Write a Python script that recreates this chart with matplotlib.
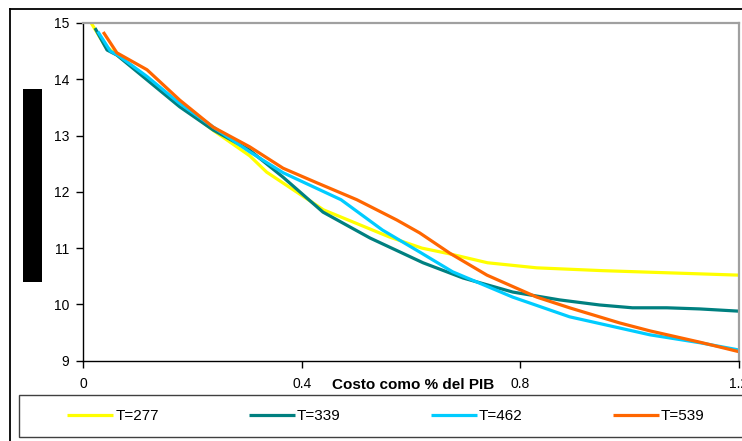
import matplotlib
matplotlib.use("Agg")
import matplotlib.pyplot as plt
from matplotlib.patches import Rectangle
from matplotlib.lines import Line2D

plt.rcParams["font.family"] = ["Liberation Sans", "DejaVu Sans"]

# data
x_277 = [0.015, 0.04, 0.06, 0.12, 0.18, 0.24, 0.305, 0.336, 0.44, 0.56, 0.62, 0.67, 0.74, 0.83, 0.95, 1.2]
y_277 = [15.0, 14.6, 14.45, 14.0, 13.52, 13.08, 12.64, 12.35, 11.68, 11.2, 11.0, 10.9, 10.74, 10.65, 10.6, 10.52]

x_339 = [0.022, 0.044, 0.062, 0.117, 0.177, 0.238, 0.305, 0.366, 0.439, 0.525, 0.622, 0.695,
         0.786, 0.872, 0.945, 1.005, 1.068, 1.128, 1.2]
y_339 = [14.91, 14.52, 14.43, 13.99, 13.51, 13.10, 12.74, 12.26, 11.64, 11.18, 10.74, 10.47,
         10.22, 10.08, 9.99, 9.94, 9.94, 9.92, 9.88]

x_462 = [0.027, 0.05, 0.065, 0.117, 0.177, 0.24, 0.305, 0.366, 0.472, 0.548, 0.616, 0.676,
         0.786, 0.89, 0.982, 1.037, 1.128, 1.2]
y_462 = [14.85, 14.5, 14.42, 14.05, 13.57, 13.14, 12.71, 12.34, 11.86, 11.32, 10.93, 10.58,
         10.13, 9.78, 9.58, 9.46, 9.32, 9.19]

x_539 = [0.037, 0.062, 0.117, 0.177, 0.238, 0.305, 0.366, 0.428, 0.501, 0.574, 0.616, 0.671,
         0.739, 0.83, 0.89, 0.982, 1.037, 1.128, 1.2]
y_539 = [14.84, 14.47, 14.17, 13.63, 13.15, 12.80, 12.42, 12.16, 11.86, 11.50, 11.27, 10.91,
         10.52, 10.13, 9.94, 9.67, 9.53, 9.33, 9.16]

labels = ["T=277", "T=339", "T=462", "T=539"]
colors = ["#FFFF00", "#008080", "#00CCFF", "#FF6600"]

x_ticks = [0, 0.4, 0.8, 1.2]
x_ticklabels = ["0", "0.4", "0.8", "1.2"]
y_ticks = [9, 10, 11, 12, 13, 14, 15]

W, H = 742, 441
fig = plt.figure(figsize=(W / 100, H / 100), dpi=100)
ax = fig.add_axes([83 / W, 1 - 360.7 / H, (739 - 83) / W, (360.7 - 23) / H])

series = [(x_277, y_277), (x_339, y_339), (x_462, y_462), (x_539, y_539)]
for (xs, ys), lab, c in zip(series, labels, colors):
    ax.plot(xs, ys, color=c, lw=2.3, label=lab, solid_capstyle="butt")

ax.set_xlim(0, 1.2)
ax.set_ylim(9, 15)
ax.set_xticks(x_ticks)
ax.set_xticklabels(x_ticklabels)
ax.set_yticks(y_ticks)
ax.tick_params(axis="both", direction="out", length=5, width=1, labelsize=10, colors="black")
ax.tick_params(axis="x", pad=7)
ax.tick_params(axis="y", pad=5)

for s in ["top", "right"]:
    ax.spines[s].set_color("#a0a0a0")
    ax.spines[s].set_linewidth(1.6)
for s in ["left", "bottom"]:
    ax.spines[s].set_color("black")
    ax.spines[s].set_linewidth(1.0)

ax.set_xlabel("Costo como % del PIB", fontsize=11, fontweight="bold")
ax.xaxis.set_label_coords(0.503, -(385 - 360.7) / 337.7)
ax.xaxis.label.set_va("center")

# outer chart border (left and top)
fig.add_artist(Line2D([10 / W, 10 / W], [0, 1 - 9 / H], transform=fig.transFigure, color="black", lw=1.3))
fig.add_artist(Line2D([10 / W, 1], [1 - 9 / H, 1 - 9 / H], transform=fig.transFigure, color="black", lw=1.3))

# black box over the y-axis title
fig.add_artist(Rectangle((23 / W, 1 - 282 / H), 19 / W, 193 / H, transform=fig.transFigure,
                         facecolor="black", edgecolor="none"))

# legend box
fig.add_artist(Rectangle((19 / W, 1 - 437 / H), (W + 5 - 19) / W, 42 / H, transform=fig.transFigure,
                         facecolor="white", edgecolor="#404040", lw=1.0))
fig.legend(loc="center left", bbox_to_anchor=(67 / W, 1 - 416 / H), ncol=4, frameon=False,
           fontsize=11, handlelength=3.0, handletextpad=0.15, columnspacing=5.9,
           borderpad=0, borderaxespad=0)

fig.savefig("out.png", dpi=100)
